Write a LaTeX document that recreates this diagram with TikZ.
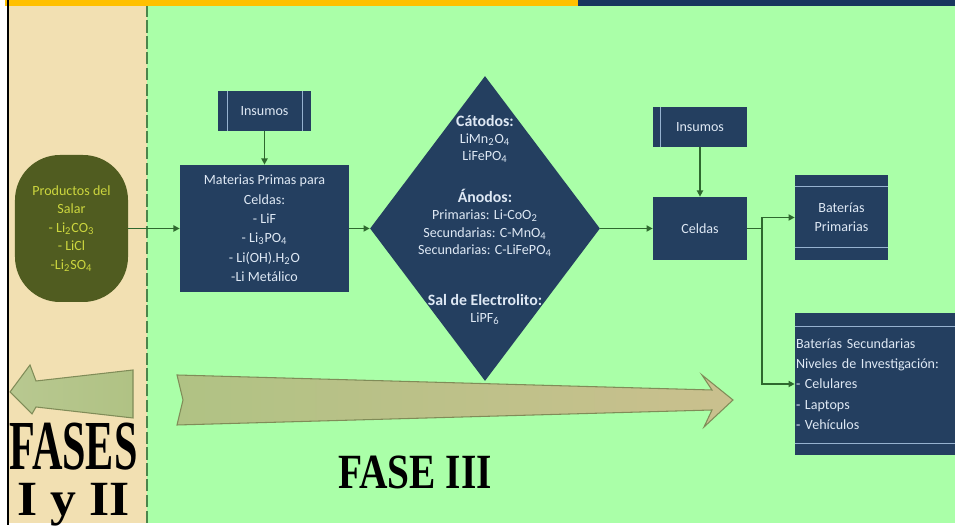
\documentclass[tikz,border=0pt]{standalone}
\usepackage{fontspec}
\setmainfont{Carlito}
\newfontfamily\fasefont{Liberation Serif}
\usetikzlibrary{shapes.geometric, arrows.meta, positioning}
\definecolor{fondoverde}{RGB}{170,255,168}
\definecolor{fondobeige}{RGB}{242,224,178}
\definecolor{cajaazul}{RGB}{36,63,96}
\definecolor{textocaja}{RGB}{222,232,244}
\definecolor{lineaclara}{RGB}{150,178,208}
\definecolor{olivo}{RGB}{80,92,32}
\definecolor{textoolivo}{RGB}{204,214,62}
\definecolor{flechaverde}{RGB}{46,104,46}
\definecolor{barranaranja}{RGB}{255,192,0}
\definecolor{barraazul}{RGB}{23,55,94}
\definecolor{olivoA}{RGB}{176,194,132}
\definecolor{olivoB}{RGB}{202,192,142}
\definecolor{bordeflecha}{RGB}{128,140,88}

\begin{document}
\begin{tikzpicture}[
  caja/.style={fill=cajaazul, text=textocaja, font=\fontsize{8}{11}\selectfont, align=center, inner sep=0pt},
  conector/.style={draw=flechaverde, line width=0.8pt, -{Triangle[length=3.5pt,width=3.5pt]}},
  borde/.style={lineaclara, line width=0.9pt},
  fase/.style={text=black, inner sep=0pt, align=center},
  flechagrande/.style={draw=bordeflecha, line width=0.6pt, left color=olivoA, right color=olivoB}
]
\useasboundingbox (0,0) rectangle (19.1,10.6);

% Fondo
\fill[white] (0,0) rectangle (19.1,10.6);
\fill[fondobeige] (0.18,0.14) rectangle (2.94,10.48);
\fill[fondoverde] (2.94,0.14) rectangle (19.1,10.48);
\fill[barranaranja] (0.1,10.48) rectangle (11.56,10.6);
\fill[barraazul] (11.56,10.48) rectangle (19.1,10.6);
\draw[black, line width=1.2pt] (0.16,0.1) -- (0.16,10.6);
\draw[black!45!green!40!gray, line width=0.6pt, dash pattern=on 7pt off 2pt] (2.94,0.14) -- (2.94,10.48);

% Productos del salar
\node[caja, fill=olivo, text=textoolivo, font=\fontsize{8}{10.5}\selectfont, minimum width=2.26cm, minimum height=2.94cm, rounded corners=0.9cm] (prod) at (1.43,6.03)
  {Productos del\\Salar\\- Li\textsubscript{2}CO\textsubscript{3}\\- LiCl\\-Li\textsubscript{2}SO\textsubscript{4}};

% Materias primas
\node[caja, minimum width=1.86cm, minimum height=0.8cm] (ins1) at (5.29,8.38) {Insumos};
\draw[borde] ([xshift=0.2cm]ins1.north west) -- ([xshift=0.2cm]ins1.south west);
\draw[borde] ([xshift=-0.18cm]ins1.north east) -- ([xshift=-0.18cm]ins1.south east);
\node[caja, minimum width=3.38cm, minimum height=2.54cm] (mat) at (5.29,6.03)
  {Materias Primas para\\Celdas:\\- LiF\\- Li\textsubscript{3}PO\textsubscript{4}\\- Li(OH).H\textsubscript{2}O\\-Li Metálico};

% Componentes
\node[diamond, fill=cajaazul, minimum width=4.6cm, minimum height=6.1cm, inner sep=0pt] (diam) at (9.7,6.03) {};
\node[text=textocaja, align=center, font=\fontsize{8}{9.8}\selectfont] (diamtxt) at (9.7,6.2)
  {{\fontsize{9}{9.8}\selectfont\bfseries Cátodos:}\\LiMn\textsubscript{2}O\textsubscript{4}\\LiFePO\textsubscript{4}\\[14pt]
   {\fontsize{9}{9.8}\selectfont\bfseries Ánodos:}\\Primarias: Li-CoO\textsubscript{2}\\Secundarias: C-MnO\textsubscript{4}\\Secundarias: C-LiFePO\textsubscript{4}\\[19pt]
   {\fontsize{9}{9.8}\selectfont\bfseries Sal de Electrolito:}\\LiPF\textsubscript{6}};

% Celdas
\node[caja, minimum width=1.88cm, minimum height=0.8cm] (ins2) at (14.0,8.06) {Insumos};
\draw[borde] ([xshift=0.16cm]ins2.north west) -- ([xshift=0.16cm]ins2.south west);
\node[caja, minimum width=1.88cm, minimum height=1.26cm] (cel) at (14.0,6.03) {Celdas};

% Baterias
\node[caja, minimum width=1.86cm, minimum height=1.7cm] (batp) at (16.83,6.25) {Baterías\\Primarias};
\draw[borde] ([yshift=-0.24cm]batp.north west) -- ([yshift=-0.24cm]batp.north east);
\draw[borde] ([yshift=0.26cm]batp.south west) -- ([yshift=0.26cm]batp.south east);
\node[caja, align=left, text width=3.16cm, inner sep=0.02cm, minimum height=2.84cm, font=\fontsize{8}{11.5}\selectfont] (bats) at (17.5,2.92)
  {Baterías Secundarias\\Niveles de Investigación:\\- Celulares\\- Laptops\\- Vehículos};
\draw[borde] ([yshift=-0.28cm]bats.north west) -- ([yshift=-0.28cm]bats.north east);
\draw[borde] ([yshift=0.24cm]bats.south west) -- ([yshift=0.24cm]bats.south east);

% Conectores
\draw[conector] (prod.east) -- (mat.west);
\draw[conector] (ins1) -- (mat);
\draw[conector] (mat.east) -- (diam.west);
\draw[conector] (diam.east) -- (cel.west);
\draw[conector] (ins2) -- (cel);
\coordinate (rama) at (15.24,6.03);
\draw[flechaverde, line width=0.8pt] (cel.east) -- (rama);
\draw[conector] (rama) |- (batp.west);
\draw[conector] (rama) |- (bats.west);

% Flechas de fases
\draw[flechagrande] (3.54,3.10) -- (3.66,2.60) -- (3.54,2.10) -- (14.24,2.40) -- (14.08,2.06)
  -- (14.66,2.60) -- (14.04,3.10) -- (14.24,2.80) -- cycle;
\draw[flechagrande, left color=olivoA!90!white, right color=olivoA] (0.20,2.76) -- (0.60,3.30) -- (0.72,2.98)
  -- (2.66,3.20) -- (2.66,2.24) -- (0.72,2.46) -- (0.64,2.32) -- cycle;

% Textos de fases
\node[fase, anchor=north, font=\fasefont\bfseries\fontsize{28}{26}\selectfont] (fases) at (1.47,2.15)
  {{\fontsize{40}{26}\selectfont\scalebox{0.6}[1]{FASES}}\\\scalebox{1.05}[1]{I y II}};
\node[fase, anchor=base, font=\fasefont\bfseries\fontsize{28}{28}\selectfont] (fase3) at (8.3,0.82) {\scalebox{0.8}[1]{FASE III}};
\end{tikzpicture}
\end{document}
